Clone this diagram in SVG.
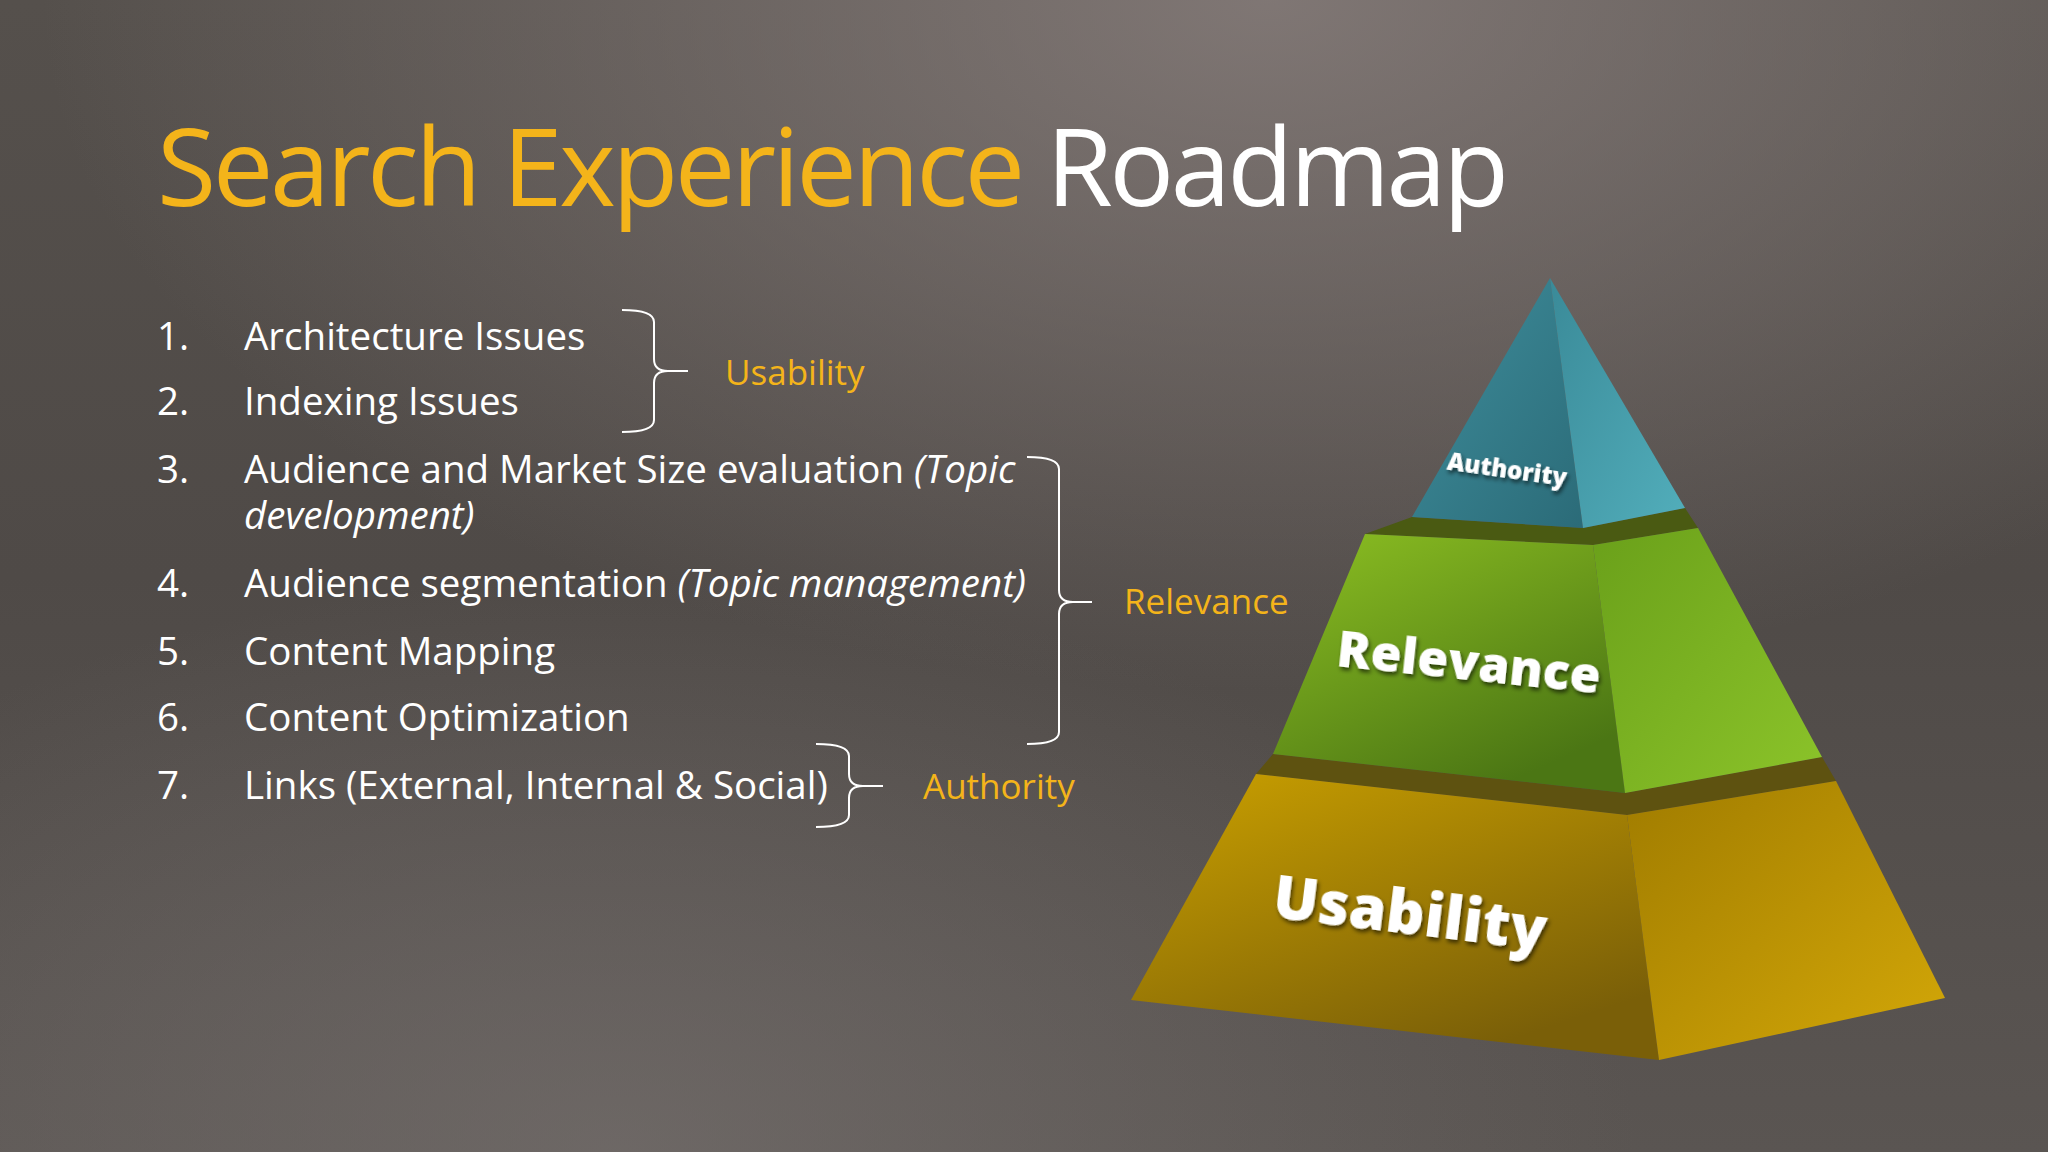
<svg xmlns="http://www.w3.org/2000/svg" width="2048" height="1152" viewBox="0 0 2048 1152">
<defs>
<linearGradient id="bg" x1="0" y1="0" x2="0" y2="1"><stop offset="0" stop-color="#55504c"/><stop offset="0.5" stop-color="#4f4a47"/><stop offset="1" stop-color="#5a5552"/></linearGradient>
<radialGradient id="glow" cx="0.62" cy="0" r="0.6"><stop offset="0" stop-color="#8a807e" stop-opacity="0.8"/><stop offset="1" stop-color="#8a807e" stop-opacity="0"/></radialGradient>
<radialGradient id="glow2" cx="0.3" cy="1" r="0.5"><stop offset="0" stop-color="#7a7472" stop-opacity="0.6"/><stop offset="1" stop-color="#7a7472" stop-opacity="0"/></radialGradient>
<linearGradient id="tl" x1="0" y1="0" x2="1" y2="1"><stop offset="0" stop-color="#3f8e9c"/><stop offset="1" stop-color="#2b6b78"/></linearGradient>
<linearGradient id="tr" x1="0" y1="0" x2="1" y2="1"><stop offset="0" stop-color="#3a8a98"/><stop offset="1" stop-color="#52aebb"/></linearGradient>
<linearGradient id="ml" x1="0" y1="0" x2="0.6" y2="1"><stop offset="0" stop-color="#8cbf22"/><stop offset="1" stop-color="#4b7614"/></linearGradient>
<linearGradient id="mr" x1="0" y1="0" x2="1" y2="1"><stop offset="0" stop-color="#6aa01a"/><stop offset="1" stop-color="#8cc42a"/></linearGradient>
<linearGradient id="bl" x1="0" y1="0" x2="0.6" y2="1"><stop offset="0" stop-color="#caa000"/><stop offset="1" stop-color="#7a5f08"/></linearGradient>
<linearGradient id="br" x1="0" y1="0" x2="1" y2="1"><stop offset="0" stop-color="#a07c00"/><stop offset="1" stop-color="#d4a808"/></linearGradient>
<filter id="sh" x="-10%" y="-30%" width="120%" height="160%"><feDropShadow dx="2" dy="3" stdDeviation="2" flood-color="#000" flood-opacity="0.6"/></filter>
<style>
.t{font-family:"Open Sans","Noto Sans",sans-serif;}
.li{font-family:"Open Sans","Noto Sans",sans-serif;font-size:38.5px;fill:#ffffff;}
.lab{font-family:"Open Sans","Noto Sans",sans-serif;font-size:35px;fill:#f4b41a;}
.br{fill:none;stroke:#ffffff;stroke-width:2;}
.pl{font-family:"Open Sans","Noto Sans",sans-serif;font-weight:800;fill:#ffffff;filter:url(#sh);}
</style>
</defs>
<rect width="2048" height="1152" fill="url(#bg)"/>
<rect width="2048" height="1152" fill="url(#glow)"/>
<rect width="2048" height="1152" fill="url(#glow2)"/>
<g id="title"><text class="t" x="157" y="206" font-size="108" textLength="1352"><tspan fill="#f4b41a">Search Experience </tspan><tspan fill="#ffffff">Roadmap</tspan></text></g>
<g id="list">
<text class="li" x="157" y="350">1.</text><text class="li" x="244" y="350">Architecture Issues</text>
<text class="li" x="157" y="415">2.</text><text class="li" x="244" y="415">Indexing Issues</text>
<text class="li" x="157" y="483">3.</text><text class="li" x="244" y="483">Audience and Market Size evaluation <tspan font-style="italic">(Topic</tspan></text>
<text class="li" x="244" y="529" font-style="italic">development)</text>
<text class="li" x="157" y="597">4.</text><text class="li" x="244" y="597">Audience segmentation <tspan font-style="italic">(Topic management)</tspan></text>
<text class="li" x="157" y="665">5.</text><text class="li" x="244" y="665">Content Mapping</text>
<text class="li" x="157" y="731">6.</text><text class="li" x="244" y="731">Content Optimization</text>
<text class="li" x="157" y="799">7.</text><text class="li" x="244" y="799">Links (External, Internal &amp; Social)</text>
</g>
<g id="connectors">
<path class="br" d="M622,310 Q654,310 654,322 L654,359 Q654,371 668,371 L688,371 M668,371 Q654,371 654,383 L654,420 Q654,432 622,432"/>
<path class="br" d="M1027,457 Q1059,457 1059,469 L1059,590 Q1059,602 1073,602 L1092,602 M1073,602 Q1059,602 1059,614 L1059,732 Q1059,744 1027,744"/>
<path class="br" d="M816,744 Q849,744 849,756 L849,774 Q849,786 863,786 L883,786 M863,786 Q849,786 849,798 L849,815 Q849,827 816,827"/>
</g>
<g id="label-usability"><text class="lab" x="725" y="385">Usability</text></g>
<g id="label-relevance"><text class="lab" x="1124" y="614">Relevance</text></g>
<g id="label-authority"><text class="lab" x="923" y="799">Authority</text></g>
<g id="pyramid-bottom">
<polygon points="1256,774 1627,815 1836,781 1822,757 1625,793 1273,754" fill="#5e5210"/>
<polygon points="1256,774 1627,815 1659,1060 1131,1000" fill="url(#bl)"/>
<polygon points="1627,815 1836,781 1945,998 1659,1060" fill="url(#br)"/>
<text class="pl" x="1410" y="934" font-size="60" text-anchor="middle" transform="rotate(7 1410 914)">Usability</text>
</g>
<g id="pyramid-middle">
<polygon points="1365,534 1593,545 1698,528 1685,508 1583,528 1412,517" fill="#4a5a12"/>
<polygon points="1365,534 1593,545 1625,793 1273,754" fill="url(#ml)"/>
<polygon points="1593,545 1698,528 1822,757 1625,793" fill="url(#mr)"/>
<text class="pl" x="1469" y="680" font-size="50" text-anchor="middle" transform="rotate(6 1469 662)">Relevance</text>
</g>
<g id="pyramid-top">
<polygon points="1550,278 1412,517 1583,528" fill="url(#tl)"/>
<polygon points="1550,278 1583,528 1685,508" fill="url(#tr)"/>
<text class="pl" x="1507" y="478" font-size="24" text-anchor="middle" transform="rotate(8 1507 470)">Authority</text>
</g>
</svg>
